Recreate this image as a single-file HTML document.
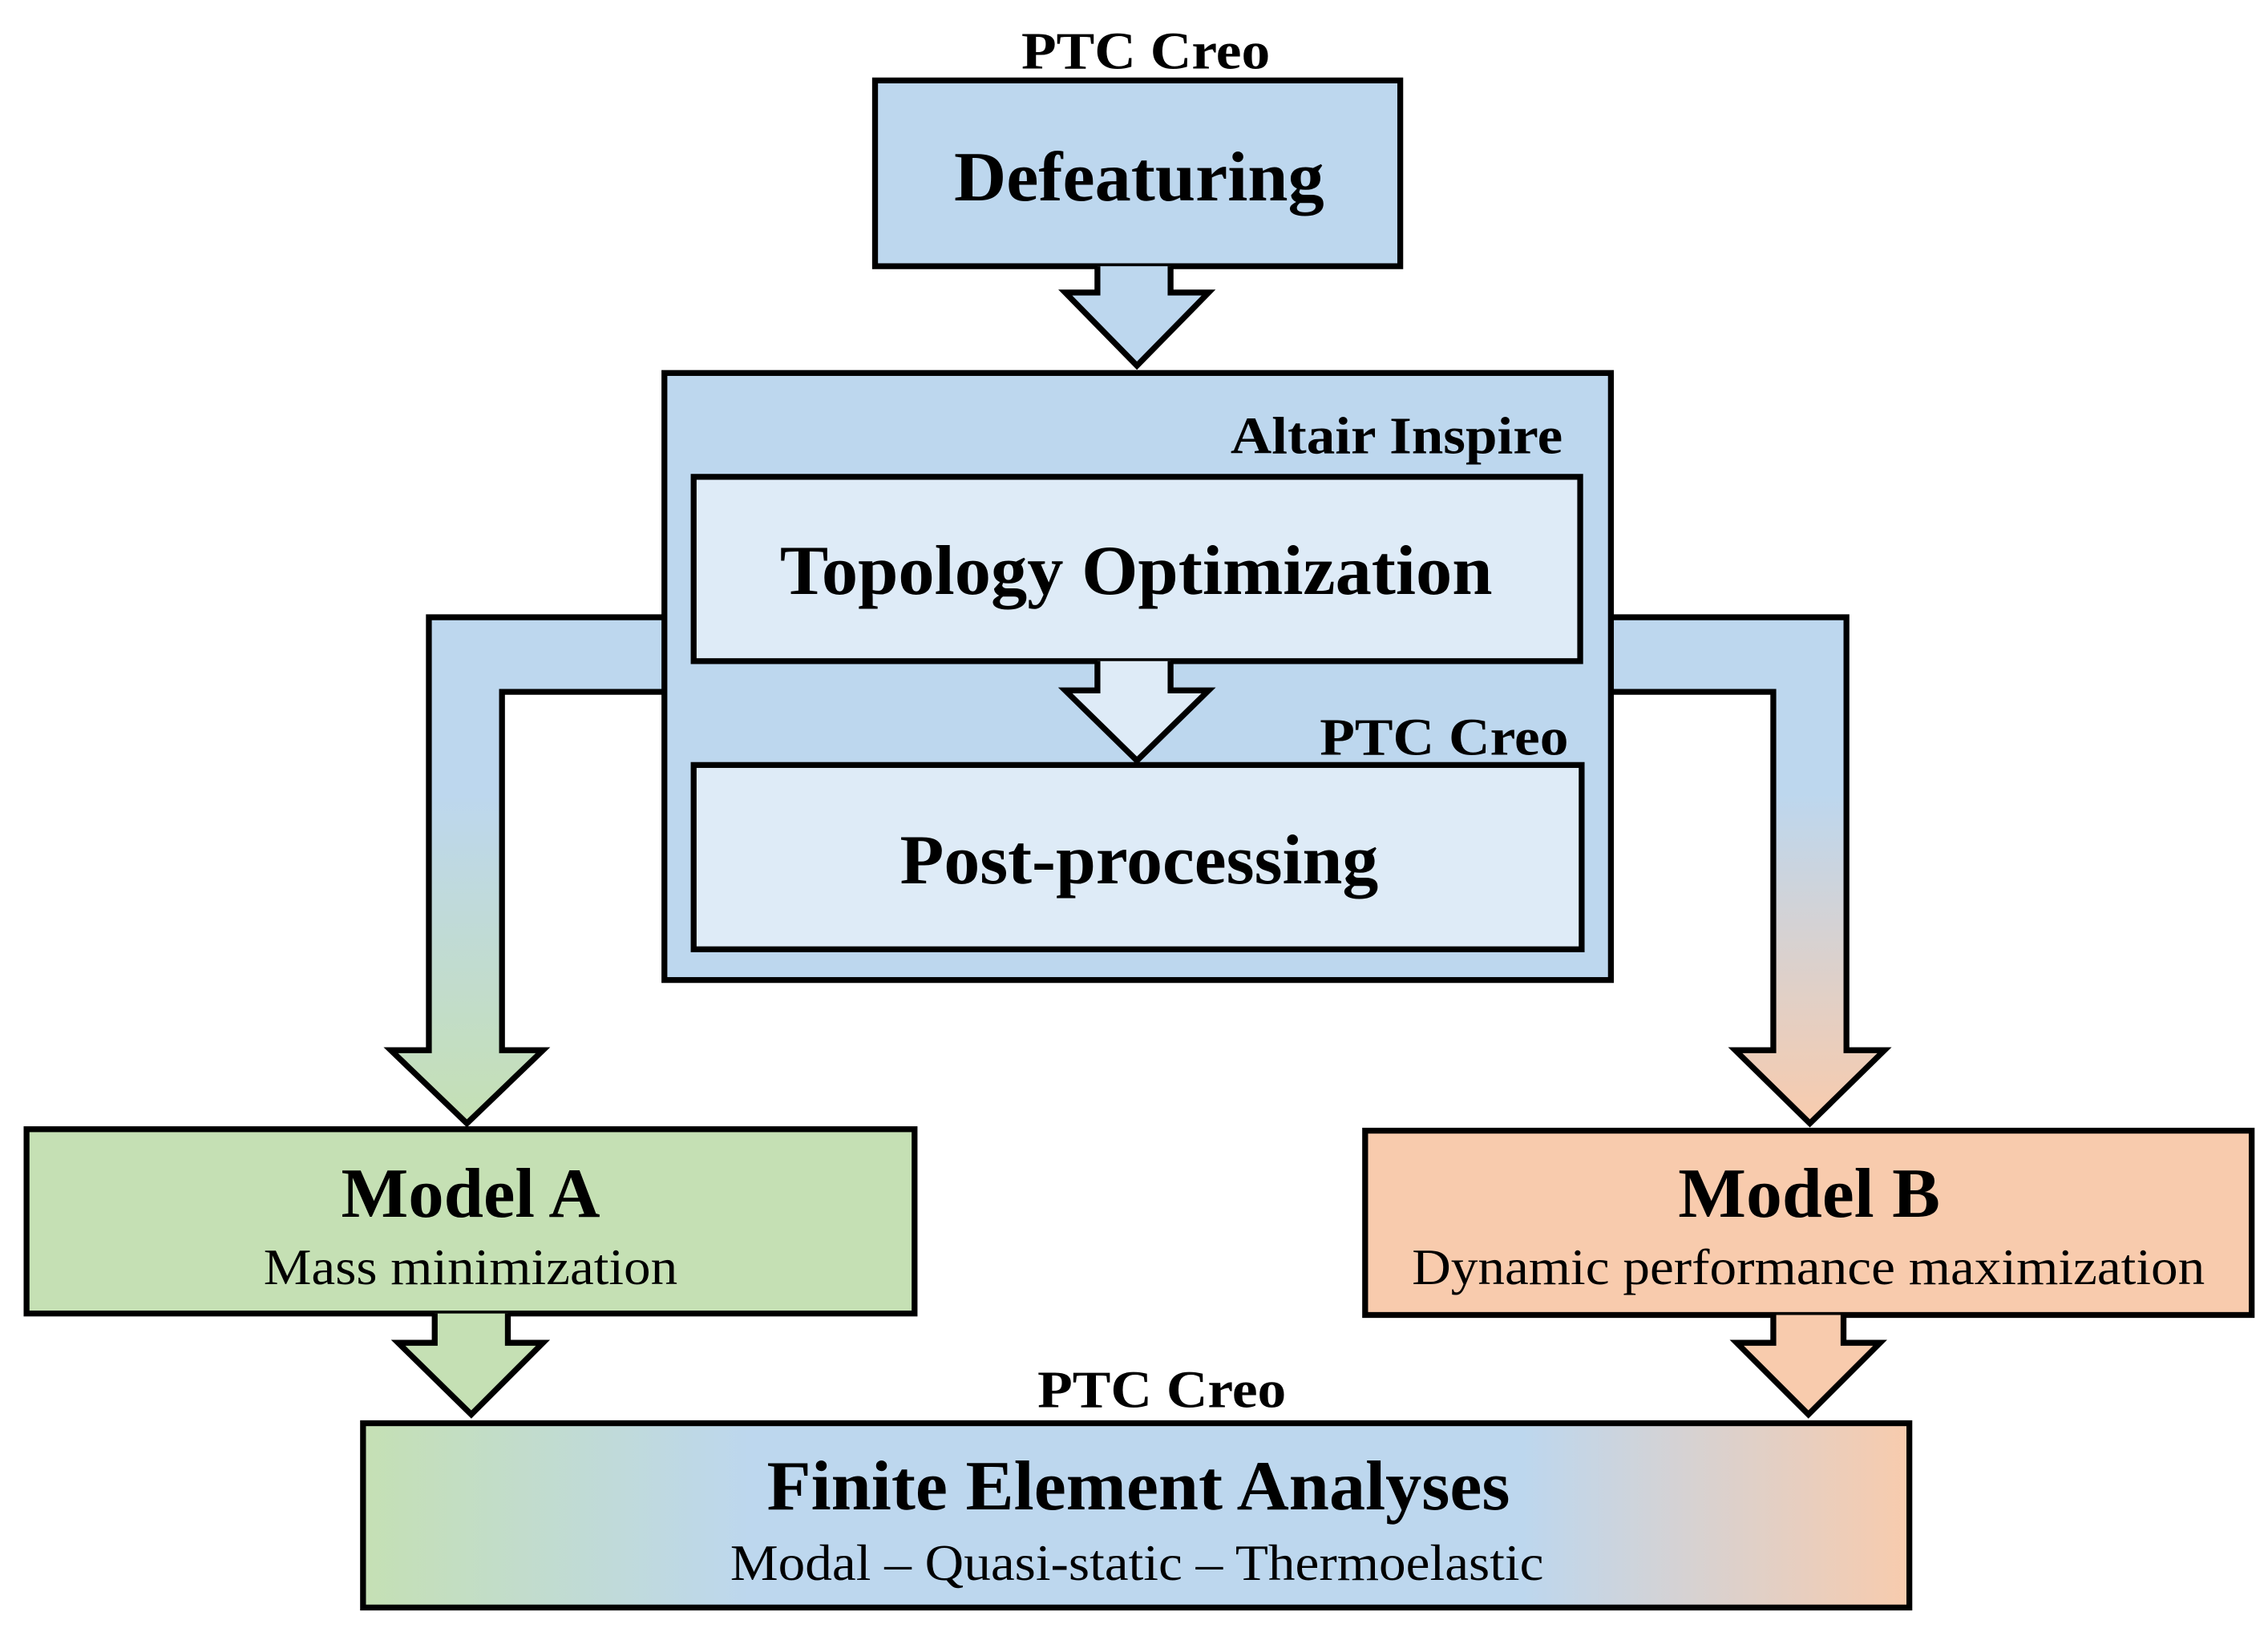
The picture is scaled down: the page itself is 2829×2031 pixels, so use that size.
<!DOCTYPE html>
<html><head><meta charset="utf-8"><style>html,body{margin:0;padding:0;background:#fff}svg{display:block}</style></head>
<body>
<svg width="2829" height="2031" viewBox="0 0 1550 1113" xmlns="http://www.w3.org/2000/svg" font-family="'Liberation Serif', serif">
<defs>
<linearGradient id="gl" x1="0" y1="422" x2="0" y2="768" gradientUnits="userSpaceOnUse">
<stop offset="0.35" stop-color="#bdd7ee"/><stop offset="1" stop-color="#c5e0b4"/></linearGradient>
<linearGradient id="gr" x1="0" y1="422" x2="0" y2="768" gradientUnits="userSpaceOnUse">
<stop offset="0.35" stop-color="#bdd7ee"/><stop offset="1" stop-color="#f8cbad"/></linearGradient>
<linearGradient id="gf" x1="248" y1="0" x2="1305" y2="0" gradientUnits="userSpaceOnUse">
<stop offset="0" stop-color="#c5e0b4"/><stop offset="0.25" stop-color="#bdd7ee"/><stop offset="0.75" stop-color="#bdd7ee"/><stop offset="1" stop-color="#f8cbad"/></linearGradient>
</defs>
<g stroke="#000" stroke-width="4" stroke-linejoin="miter">
<path d="M456,422 L293,422 L293,718 L267,718 L319,768 L371,718 L343,718 L343,473 L456,473" fill="url(#gl)"/>
<path d="M1099,422 L1262,422 L1262,718 L1288,718 L1237,768 L1186,718 L1212,718 L1212,473 L1099,473" fill="url(#gr)"/>
<rect x="454" y="255" width="647" height="415" fill="#bdd7ee"/>
<rect x="598" y="55" width="359" height="127" fill="#bdd7ee"/>
<path d="M750,182 L750,200 L728,200 L777,250 L826,200 L800,200 L800,182" fill="#bdd7ee"/>
<rect x="474" y="326" width="606" height="126" fill="#deebf7"/>
<path d="M750,452 L750,472 L728,472 L777,520 L826,472 L800,472 L800,452" fill="#deebf7"/>
<rect x="474" y="523" width="607" height="126" fill="#deebf7"/>
<rect x="18" y="772" width="607" height="126" fill="#c5e0b4"/>
<rect x="933" y="773" width="606" height="126" fill="#f8cbad"/>
<path d="M297,898 L297,918 L272,918 L322,967 L371,918 L347,918 L347,898" fill="#c5e0b4"/>
<path d="M1212,899 L1212,918 L1187,918 L1236,967 L1285,918 L1260,918 L1260,899" fill="#f8cbad"/>
<rect x="248" y="973" width="1057" height="126" fill="url(#gf)"/>
</g>
<g fill="#000" font-weight="bold">
<text x="698" y="47" font-size="36" textLength="170" lengthAdjust="spacingAndGlyphs">PTC Creo</text>
<text x="652" y="137" font-size="48" textLength="253" lengthAdjust="spacingAndGlyphs">Defeaturing</text>
<text x="841" y="310" font-size="36" textLength="227" lengthAdjust="spacingAndGlyphs">Altair Inspire</text>
<text x="533" y="406" font-size="48" textLength="487" lengthAdjust="spacingAndGlyphs">Topology Optimization</text>
<text x="902" y="516" font-size="36" textLength="170" lengthAdjust="spacingAndGlyphs">PTC Creo</text>
<text x="615" y="604" font-size="48" textLength="327" lengthAdjust="spacingAndGlyphs">Post-processing</text>
<text x="233" y="832" font-size="48" textLength="177" lengthAdjust="spacingAndGlyphs">Model A</text>
<text x="1147" y="832" font-size="48" textLength="179" lengthAdjust="spacingAndGlyphs">Model B</text>
<text x="709" y="962" font-size="36" textLength="170" lengthAdjust="spacingAndGlyphs">PTC Creo</text>
<text x="524" y="1032" font-size="48" textLength="508" lengthAdjust="spacingAndGlyphs">Finite Element Analyses</text>
</g>
<g fill="#000">
<text x="180" y="878" font-size="35" textLength="283" lengthAdjust="spacingAndGlyphs">Mass minimization</text>
<text x="965" y="878" font-size="35" textLength="542" lengthAdjust="spacingAndGlyphs">Dynamic performance maximization</text>
<text x="499" y="1080" font-size="35" textLength="556" lengthAdjust="spacingAndGlyphs">Modal – Quasi-static – Thermoelastic</text>
</g>
</svg>
</body></html>
